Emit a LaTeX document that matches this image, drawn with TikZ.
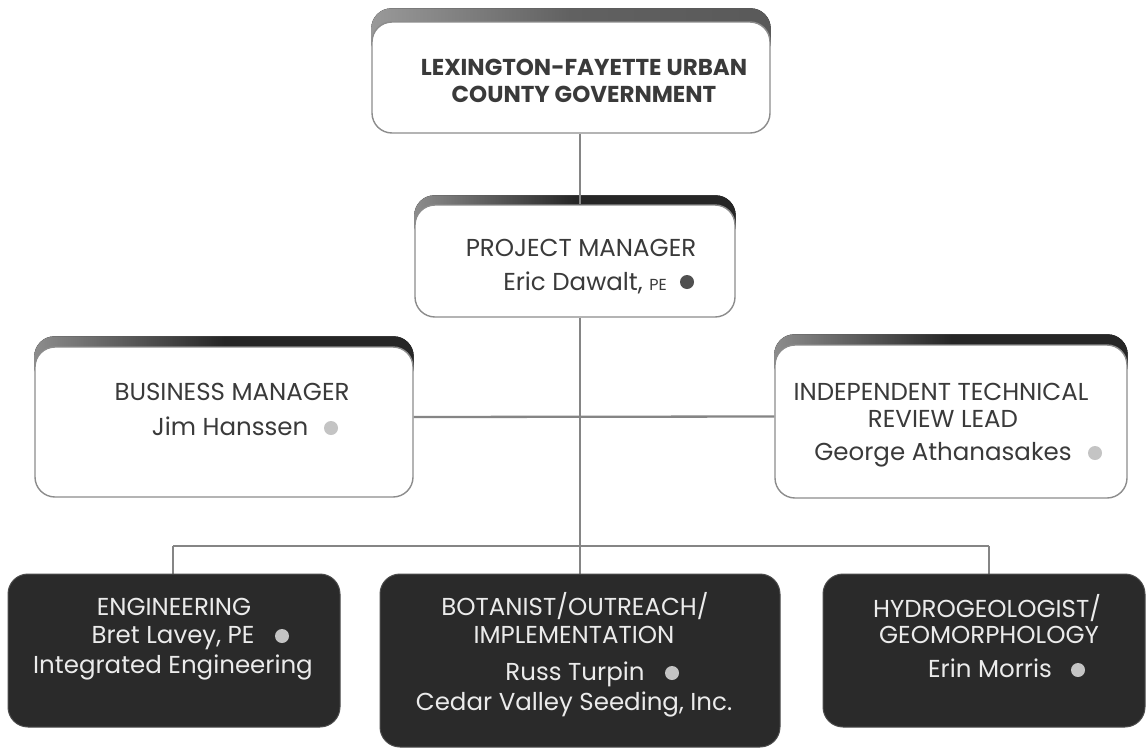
\documentclass[tikz,border=0pt]{standalone}
\usepackage{fontspec}
\setmainfont{Poppins}
\usetikzlibrary{calc}
\definecolor{txt}{HTML}{3A3A3A}
\definecolor{boxline}{HTML}{8C8C8C}
\definecolor{conn}{HTML}{858585}
\definecolor{darkfill}{HTML}{2A2A2A}
\definecolor{tabdark}{HTML}{262626}
\definecolor{dotlight}{HTML}{C4C4C4}
\definecolor{dotdark}{HTML}{505050}
\pgfdeclarelayer{bg}
\pgfdeclarelayer{paper}
\pgfsetlayers{paper,bg,main}
\tikzset{
  wbox/.style={rectangle, rounded corners=20pt, draw=boxline, line width=1.4pt, fill=white, inner sep=0pt},
  dbox/.style={rectangle, rounded corners=20pt, draw=black!70, line width=1pt, fill=darkfill, inner sep=0pt},
  tabfill/.style={left color=black!45, right color=tabdark, middle color=tabdark, rounded corners=20pt},
  lbl/.style={text=txt, font=\fontsize{24.5}{28}\selectfont, anchor=base, inner sep=0pt},
  wlbl/.style={lbl, text=white!92!black},
  tlbl/.style={lbl, font=\fontsize{23}{27}\selectfont\bfseries},
  dotmark/.style={circle, minimum size=14pt, inner sep=0pt, draw=none},
  connline/.style={draw=conn, line width=2.3pt}
}
\newcommand{\smallpe}{{\fontsize{16}{16}\selectfont PE}}
\begin{document}
\begin{tikzpicture}[x=1pt,y=-1pt]
\begin{pgfonlayer}{paper}
\fill[white] (0,0) rectangle (1146,750);
\end{pgfonlayer}
\useasboundingbox (0,0) rectangle (1146,750);

% boxes
\node[wbox, minimum width=398pt, minimum height=111pt] (top) at (571,77.5) {};
\node[wbox, minimum width=320pt, minimum height=112pt] (pm) at (575,261) {};
\node[wbox, minimum width=378pt, minimum height=150pt] (bus) at (224,422) {};
\node[wbox, minimum width=352pt, minimum height=153pt] (itr) at (951,421.5) {};
\node[dbox, minimum width=332pt, minimum height=153pt] (eng) at (174,650.5) {};
\node[dbox, minimum width=400pt, minimum height=173pt] (mid) at (580,660.5) {};
\node[dbox, minimum width=322pt, minimum height=153pt] (hyd) at (984,650.5) {};

% tabs behind white boxes
\begin{pgfonlayer}{bg}
  \fill[tabfill, left color=black!40, right color=black!65, middle color=black!62] ($(top.north west)+(0,-13)$) rectangle ($(top.north east)+(0,40)$);
  \fill[tabfill] ($(pm.north west)+(0,-9)$) rectangle ($(pm.north east)+(0,40)$);
  \fill[tabfill] ($(bus.north west)+(0,-10)$) rectangle ($(bus.north east)+(0,40)$);
  \fill[tabfill] ($(itr.north west)+(0,-10)$) rectangle ($(itr.north east)+(0,40)$);
\end{pgfonlayer}

% connectors
\coordinate (spine) at (580,0);
\coordinate (hl) at (173,546);
\coordinate (hr) at (989,546);
\begin{pgfonlayer}{bg}
\draw[connline] (top.south -| spine) -- (pm.north -| spine);
\draw[connline] (pm.south -| spine) -- (mid.north);
\draw[connline] ([yshift=5pt]bus.east) -- ([yshift=5pt]itr.west);
\draw[connline] (hl) -- (hr);
\draw[connline] (hl) -- (hl |- eng.north);
\draw[connline] (hr) -- (hr |- hyd.north);
\end{pgfonlayer}

% texts
\node[tlbl] (t1) at (584,75) {LEXINGTON-FAYETTE URBAN};
\node[tlbl] (t2) at (584,102) {COUNTY GOVERNMENT};

\node[lbl] (p1) at (581,256) {PROJECT MANAGER};
\node[lbl] (p2) at (585,290) {Eric Dawalt, \smallpe};
\node[dotmark, fill=dotdark] (pd) at (687,282) {};

\node[lbl] (b1) at (232,400) {BUSINESS MANAGER};
\node[lbl] (b2) at (230,435) {Jim Hanssen};
\node[dotmark, fill=dotlight] (bd) at (331,428) {};

\node[lbl] (i1) at (941,400) {INDEPENDENT TECHNICAL};
\node[lbl] (i2) at (943,427) {REVIEW LEAD};
\node[lbl] (i3) at (943,460) {George Athanasakes};
\node[dotmark, fill=dotlight] (id) at (1095,453) {};

\node[wlbl] (e1) at (174,615) {ENGINEERING};
\node[wlbl] (e2) at (173,643) {Bret Lavey, PE};
\node[wlbl] (e3) at (173,673) {Integrated Engineering};
\node[dotmark, fill=dotlight] (ed) at (282,636) {};

\node[wlbl] (m1) at (575,615) {BOTANIST/OUTREACH/};
\node[wlbl] (m2) at (574,643) {IMPLEMENTATION};
\node[wlbl] (m3) at (575,680) {Russ Turpin};
\node[wlbl] (m4) at (574,710) {Cedar Valley Seeding, Inc.};
\node[dotmark, fill=dotlight] (md) at (672,673) {};

\node[wlbl] (h1) at (987,617) {HYDROGEOLOGIST/};
\node[wlbl] (h2) at (989,643) {GEOMORPHOLOGY};
\node[wlbl] (h3) at (990,677) {Erin Morris};
\node[dotmark, fill=dotlight] (hd) at (1078,670) {};
\end{tikzpicture}
\end{document}
